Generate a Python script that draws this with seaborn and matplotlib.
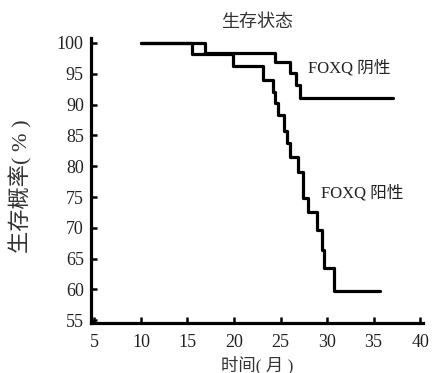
import matplotlib
matplotlib.use("Agg")
import matplotlib.pyplot as plt
import seaborn as sns
import pandas as pd

# ---- data ----
neg_time = [10, 16.9, 24.4, 26.0, 26.7, 27.1, 37.1]
neg_surv = [100, 98.3, 96.9, 95.1, 93.1, 91.0, 91.0]

pos_time = [10, 15.5, 19.9, 23.1, 24.2, 24.4, 24.7, 25.4, 25.7, 26.0,
            26.9, 27.4, 28.0, 28.9, 29.5, 29.7, 30.7, 35.7]
pos_surv = [100, 98.2, 96.2, 94.0, 92.1, 90.3, 88.3, 85.7, 83.8, 81.5,
            79.1, 74.8, 72.6, 69.6, 66.4, 63.5, 59.8, 59.8]

group_labels = ["FOXQ 阴性", "FOXQ 阳性"]
x_ticks = [5, 10, 15, 20, 25, 30, 35, 40]
y_ticks = [55, 60, 65, 70, 75, 80, 85, 90, 95, 100]
title = "生存状态"
x_label = "时间( 月 )"
y_label = "生存概率( % )"

df = pd.concat([
    pd.DataFrame({"time": neg_time, "surv": neg_surv, "group": group_labels[0]}),
    pd.DataFrame({"time": pos_time, "surv": pos_surv, "group": group_labels[1]}),
])

sns.set_style("white")
plt.rcParams["font.family"] = ["Liberation Serif", "Noto Sans CJK SC", "DejaVu Sans"]

fig = plt.figure(figsize=(4.32, 3.73), dpi=100)
ax = fig.add_axes([0.21, 0.134, 0.769, 0.764])

for g in group_labels:
    sub = df[df["group"] == g]
    sns.lineplot(data=sub, x="time", y="surv", ax=ax, color="black",
                 linewidth=2.3, drawstyle="steps-post", estimator=None,
                 sort=False, legend=False)

ax.set_xlim(4.6, 40.3)
ax.set_ylim(54.55, 100.8)
ax.set_xticks(x_ticks)
ax.set_yticks(y_ticks)
ax.tick_params(direction="in", length=4, width=1.8, colors="black",
               labelcolor="#222222", labelsize=13, bottom=True, left=True)
ax.tick_params(axis="x", pad=8)
ax.tick_params(axis="y", pad=5)

for side in ["top", "right"]:
    ax.spines[side].set_visible(False)
for side in ["left", "bottom"]:
    ax.spines[side].set_linewidth(2.3)
    ax.spines[side].set_color("black")

ax.set_title(title, fontsize=13, color="#333333", pad=8)
ax.set_xlabel(x_label, fontsize=12.5, color="#333333", labelpad=3)
ax.set_ylabel(y_label, fontsize=16, color="#333333")
ax.yaxis.set_label_coords(-0.175, 0.48)

ax.text(27.9, 95.9, group_labels[0], fontsize=12, color="#222222", va="center", ha="left")
ax.text(29.4, 75.6, group_labels[1], fontsize=12, color="#222222", va="center", ha="left")

fig.savefig("out.png", dpi=100)
